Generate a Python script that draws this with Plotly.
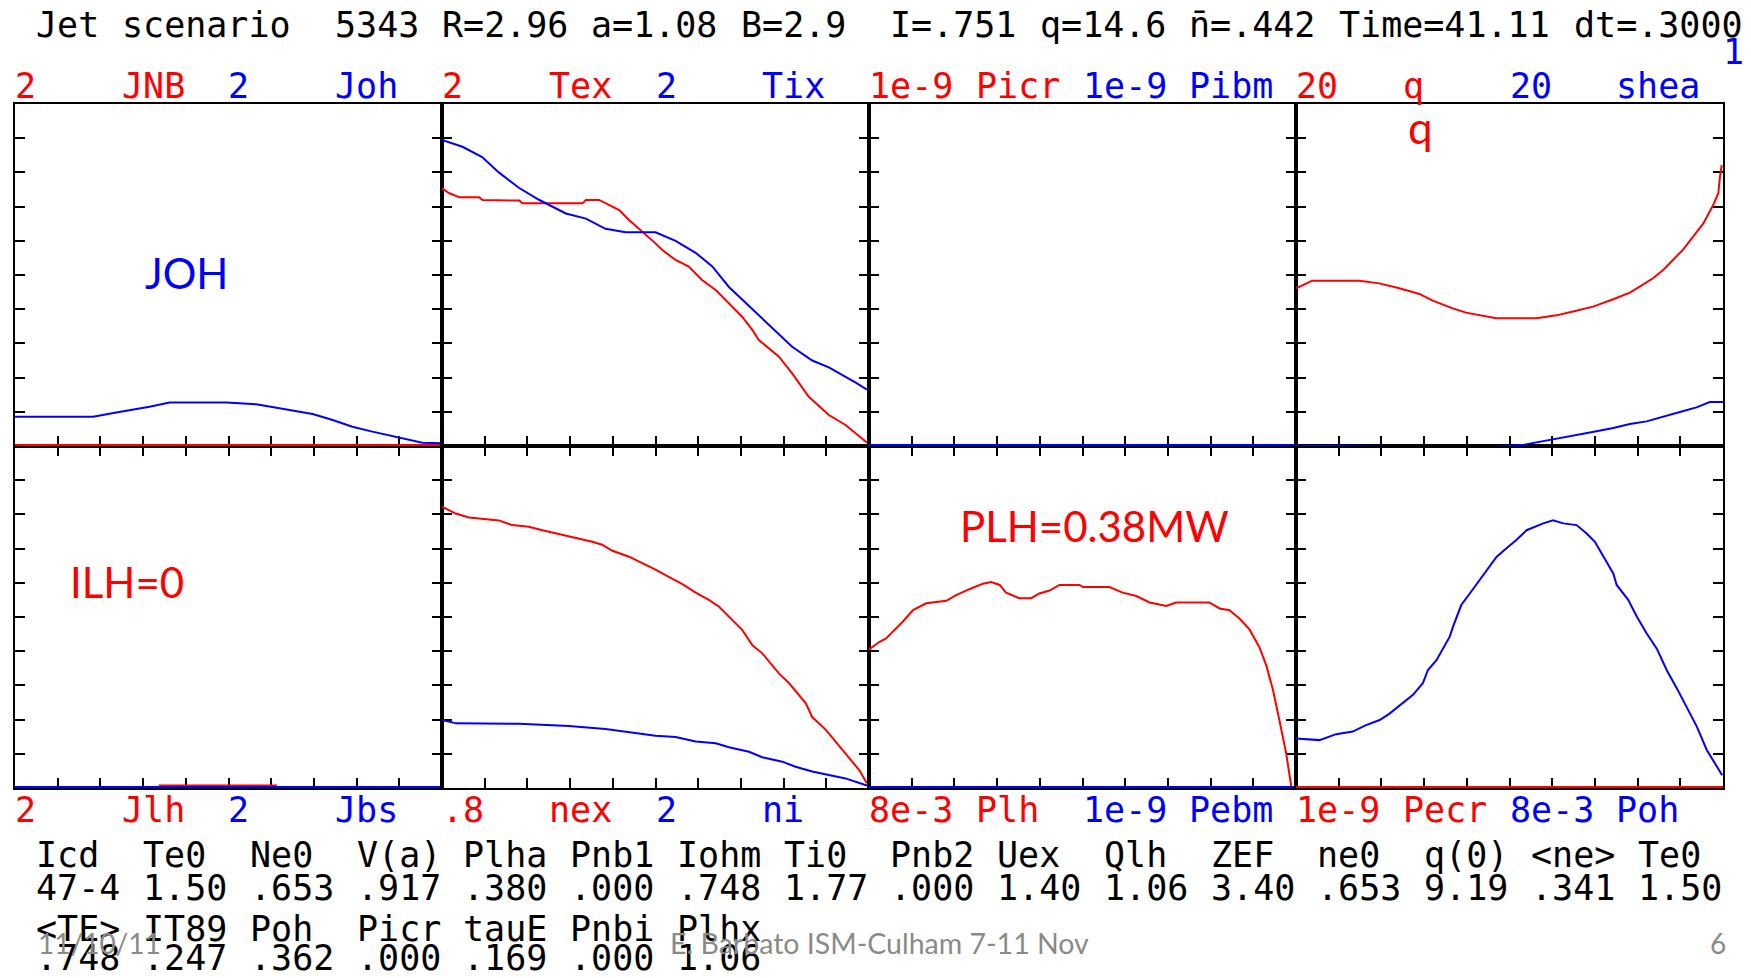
import numpy as np
import plotly.graph_objects as go

W, H = 1751, 978

# ---------------- data (x = normalised radius 0..1) ----------------
# top row
jnb_x = [0, 1]
jnb_v = [0, 0]
joh_x = [0, 0.183, 0.234, 0.276, 0.315, 0.362, 0.495, 0.565, 0.611, 0.658, 0.697, 0.744, 0.790, 0.837, 0.900, 0.954, 1.0]
joh_v = [0.171, 0.171, 0.195, 0.211, 0.23, 0.255, 0.255, 0.244, 0.224, 0.201, 0.187, 0.152, 0.113, 0.084, 0.051, 0.019, 0.016]

tex_x = [0, 0.017, 0.041, 0.087, 0.095, 0.181, 0.188, 0.329, 0.337, 0.368, 0.392, 0.415, 0.438, 0.470, 0.500, 0.516,
         0.547, 0.578, 0.609, 0.641, 0.672, 0.703, 0.727, 0.742, 0.789, 0.820, 0.859, 0.906, 0.945, 0.969, 0.995]
tex_v = [1.507, 1.478, 1.454, 1.454, 1.439, 1.435, 1.419, 1.419, 1.439, 1.439, 1.409, 1.380, 1.322, 1.254, 1.185, 1.146,
         1.088, 1.049, 0.971, 0.912, 0.834, 0.756, 0.678, 0.620, 0.522, 0.425, 0.288, 0.181, 0.123, 0.074, 0.02]
tix_x = [0, 0.048, 0.094, 0.133, 0.180, 0.227, 0.290, 0.337, 0.383, 0.430, 0.500, 0.547, 0.594, 0.633, 0.672, 0.719,
         0.766, 0.820, 0.867, 0.906, 0.969, 0.995]
tix_v = [1.79, 1.75, 1.69, 1.60, 1.51, 1.44, 1.36, 1.33, 1.27, 1.25, 1.25, 1.20, 1.13, 1.05, 0.93, 0.82,
         0.71, 0.58, 0.50, 0.46, 0.37, 0.33]

picr_x = [0, 1]
picr_v = [0, 0]
pibm_x = [0, 1]
pibm_v = [0, 0]

q_x = [0, 0.038, 0.148, 0.195, 0.242, 0.289, 0.320, 0.367, 0.398, 0.430, 0.469, 0.563, 0.610, 0.649, 0.696, 0.743,
       0.782, 0.805, 0.836, 0.860, 0.883, 0.907, 0.930, 0.954, 0.977, 0.989, 0.993, 0.997]
q_v = [9.22, 9.67, 9.67, 9.51, 9.22, 8.89, 8.50, 8.05, 7.80, 7.64, 7.47, 7.47, 7.64, 7.86, 8.15, 8.58,
       8.97, 9.32, 9.81, 10.29, 10.88, 11.50, 12.24, 13.02, 14.09, 14.78, 15.75, 16.43]
shea_x = [0, 0.10, 0.234, 0.297, 0.422, 0.43, 0.535, 0.578, 0.625, 0.664, 0.704, 0.743, 0.782, 0.821, 0.860, 0.899, 0.938, 0.969, 1.0]
shea_v = [0.0, 0.0, -0.06, -0.23, -0.23, -0.12, 0.08, 0.27, 0.47, 0.66, 0.86, 1.05, 1.29, 1.44, 1.73, 1.99, 2.26, 2.57, 2.57]

# bottom row
jlh_x = [0, 0.339, 0.339, 0.611, 0.611, 1]
jlh_v = [0, 0, 0.015, 0.015, 0, 0]
jbs_x = [0, 1]
jbs_v = [0, 0]

nex_x = [0, 0.017, 0.032, 0.063, 0.102, 0.133, 0.164, 0.203, 0.235, 0.266, 0.313, 0.352, 0.375, 0.399, 0.438, 0.469,
         0.500, 0.531, 0.563, 0.594, 0.625, 0.649, 0.672, 0.703, 0.727, 0.750, 0.789, 0.813, 0.852, 0.867, 0.899,
         0.938, 0.977, 0.995]
nex_v = [0.658, 0.650, 0.642, 0.633, 0.630, 0.626, 0.615, 0.611, 0.603, 0.596, 0.586, 0.576, 0.569, 0.555, 0.541, 0.526,
         0.511, 0.494, 0.477, 0.457, 0.440, 0.424, 0.401, 0.370, 0.334, 0.315, 0.268, 0.245, 0.198, 0.166, 0.136,
         0.089, 0.042, 0.011]
ni_x = [0, 0.033, 0.180, 0.297, 0.383, 0.438, 0.500, 0.547, 0.594, 0.641, 0.672, 0.719, 0.750, 0.797, 0.828, 0.867,
        0.906, 0.945, 0.995]
ni_v = [0.398, 0.378, 0.376, 0.362, 0.345, 0.325, 0.305, 0.298, 0.272, 0.262, 0.238, 0.212, 0.180, 0.154, 0.124, 0.096,
        0.076, 0.056, 0.015]

plh_x = [0, 0.025, 0.040, 0.064, 0.079, 0.103, 0.134, 0.181, 0.204, 0.235, 0.267, 0.286, 0.306, 0.321, 0.352, 0.380,
         0.399, 0.423, 0.446, 0.493, 0.501, 0.563, 0.594, 0.626, 0.657, 0.696, 0.719, 0.797, 0.821, 0.844, 0.867,
         0.891, 0.914, 0.930, 0.946, 0.961, 0.977, 0.989, 1.0]
plh_v = [3.24e-3, 3.42e-3, 3.50e-3, 3.74e-3, 3.89e-3, 4.16e-3, 4.32e-3, 4.38e-3, 4.51e-3, 4.65e-3, 4.78e-3, 4.82e-3,
         4.75e-3, 4.57e-3, 4.44e-3, 4.44e-3, 4.55e-3, 4.62e-3, 4.75e-3, 4.75e-3, 4.70e-3, 4.70e-3, 4.57e-3, 4.49e-3,
         4.34e-3, 4.26e-3, 4.34e-3, 4.34e-3, 4.20e-3, 4.16e-3, 3.97e-3, 3.71e-3, 3.30e-3, 2.88e-3, 2.30e-3, 1.59e-3,
         0.81e-3, 0.03e-3, 0.0]
pebm_x = [0, 1]
pebm_v = [0, 0]

pecr_x = [0, 1]
pecr_v = [0, 0]
poh_x = [0, 0.055, 0.094, 0.133, 0.164, 0.196, 0.219, 0.250, 0.274, 0.297, 0.309, 0.329, 0.344, 0.360, 0.368, 0.387,
         0.407, 0.430, 0.446, 0.470, 0.493, 0.516, 0.540, 0.579, 0.602, 0.626, 0.657, 0.680, 0.700, 0.720, 0.743,
         0.751, 0.778, 0.798, 0.821, 0.845, 0.868, 0.892, 0.915, 0.939, 0.962, 0.998]
poh_v = [1.16e-3, 1.12e-3, 1.26e-3, 1.32e-3, 1.47e-3, 1.59e-3, 1.74e-3, 1.98e-3, 2.18e-3, 2.45e-3, 2.76e-3, 2.99e-3,
         3.26e-3, 3.54e-3, 3.78e-3, 4.28e-3, 4.55e-3, 4.86e-3, 5.10e-3, 5.41e-3, 5.61e-3, 5.80e-3, 6.03e-3, 6.19e-3,
         6.26e-3, 6.19e-3, 6.15e-3, 5.96e-3, 5.76e-3, 5.41e-3, 5.02e-3, 4.75e-3, 4.40e-3, 4.01e-3, 3.62e-3, 3.26e-3,
         2.76e-3, 2.33e-3, 1.90e-3, 1.43e-3, 0.89e-3, 0.30e-3]

# panel full-scale values and labels: (red label, red scale), (blue label, blue scale)
top_scales_r = [("2", 2), ("2", 2), ("1e-9", 1e-9), ("20", 20)]
top_scales_b = [("2", 2), ("2", 2), ("1e-9", 1e-9), ("20", 20)]
top_names = [("JNB", "Joh"), ("Tex", "Tix"), ("Picr", "Pibm"), ("q", "shea")]
bot_scales_r = [("2", 2), (".8", 0.8), ("8e-3", 8e-3), ("1e-9", 1e-9)]
bot_scales_b = [("2", 2), ("2", 2), ("1e-9", 1e-9), ("8e-3", 8e-3)]
bot_names = [("Jlh", "Jbs"), ("nex", "ni"), ("Plh", "Pebm"), ("Pecr", "Poh")]

top_red = [(jnb_x, jnb_v), (tex_x, tex_v), (picr_x, picr_v), (q_x, q_v)]
top_blue = [(joh_x, joh_v), (tix_x, tix_v), (pibm_x, pibm_v), (shea_x, shea_v)]
bot_red = [(jlh_x, jlh_v), (nex_x, nex_v), (plh_x, plh_v), (pecr_x, pecr_v)]
bot_blue = [(jbs_x, jbs_v), (ni_x, ni_v), (pebm_x, pebm_v), (poh_x, poh_v)]

title_tokens = [("Jet", 1), ("scenario", 5), ("5343", 15), ("R=2.96", 20), ("a=1.08", 27), ("B=2.9", 34),
                ("I=.751", 41), ("q=14.6", 48), ("n\u0304=.442", 55), ("Time=41.11", 62), ("dt=.3000", 73)]
table_row1 = ["Icd", "Te0", "Ne0", "V(a)", "Plha", "Pnb1", "Iohm", "Ti0", "Pnb2", "Uex", "Qlh", "ZEF", "ne0", "q(0)", "&lt;ne&gt;", "Te0"]
table_row2 = ["47-4", "1.50", ".653", ".917", ".380", ".000", ".748", "1.77", ".000", "1.40", "1.06", "3.40", ".653", "9.19", ".341", "1.50"]
table_row3 = ["&lt;TE&gt;", "IT89", "Poh", "Picr", "tauE", "Pnbi", "Plhx"]
table_row4 = [".748", ".247", ".362", ".000", ".169", ".000", "1.06"]

RED = "#ff0000"
BLUE = "#0000ff"

# ---------------- geometry ----------------
X0, PW = 15, 427
ROWS = [(104, 446), (446, 788)]   # top row, bottom row (pixel y)
CW = 21.35
MONO = "DejaVu Sans Mono"
MSIZE = 35.0

fig = go.Figure()

def fx(px):
    return px / W

def fy(py):
    return 1 - py / H

panel_defs = []
# bottom row drawn first so the top row's zero lines lie over the shared border
for c in range(4):
    panel_defs.append((1, c, bot_red[c], bot_scales_r[c][1], bot_blue[c], bot_scales_b[c][1]))
for c in range(4):
    panel_defs.append((0, c, top_red[c], top_scales_r[c][1], top_blue[c], top_scales_b[c][1]))

for n, (r, c, red, rsc, blue, bsc) in enumerate(panel_defs, start=1):
    xa = "x" if n == 1 else f"x{n}"
    ya = "y" if n == 1 else f"y{n}"
    for (xs, vs), sc, col in [(red, rsc, RED), (blue, bsc, BLUE)]:
        vals = np.array(vs, dtype=float) / sc
        lw = 4 if np.all(vals == 0) else 2
        fig.add_trace(go.Scatter(x=xs, y=vals, mode="lines",
                                 line=dict(color=col, width=lw), xaxis=xa, yaxis=ya,
                                 cliponaxis=False, showlegend=False, hoverinfo="skip"))
    y_top, y_bot = ROWS[r]
    common = dict(range=[0, 1], tickmode="linear", tick0=0, dtick=0.1, ticks="inside", ticklen=10,
                  tickwidth=2, tickcolor="black", showticklabels=False, showgrid=False, zeroline=False,
                  showline=True, linecolor="black", linewidth=2, layer="below traces", fixedrange=True)
    fig.layout[f"xaxis{n}"] = dict(domain=[fx(X0 + PW * c), fx(X0 + PW * (c + 1))], anchor=ya,
                                   mirror=("ticks" if r == 1 else True), **common)
    fig.layout[f"yaxis{n}"] = dict(domain=[fy(y_bot), fy(y_top)], anchor=xa, mirror="ticks", **common)

ann = []

def mono(text, col, yc, color="black"):
    ann.append(dict(text=text, x=fx(X0 + col * CW - 2), y=fy(yc), xref="paper", yref="paper",
                    xanchor="left", yanchor="middle", showarrow=False,
                    font=dict(family=MONO, size=MSIZE, color=color)))

for t, col in title_tokens:
    mono(t, col, 25)
mono("1", 80, 52, BLUE)

for c in range(4):
    mono(top_scales_r[c][0], 20 * c, 86, RED)
    mono(top_names[c][0], 20 * c + 5, 86, RED)
    mono(top_scales_b[c][0], 20 * c + 10, 86, BLUE)
    mono(top_names[c][1], 20 * c + 15, 86, BLUE)
    mono(bot_scales_r[c][0], 20 * c, 810, RED)
    mono(bot_names[c][0], 20 * c + 5, 810, RED)
    mono(bot_scales_b[c][0], 20 * c + 10, 810, BLUE)
    mono(bot_names[c][1], 20 * c + 15, 810, BLUE)

for i, t in enumerate(table_row1):
    mono(t, 1 + 5 * i, 855)
for i, t in enumerate(table_row2):
    mono(t, 1 + 5 * i, 888)
for i, t in enumerate(table_row3):
    mono(t, 1 + 5 * i, 929)
for i, t in enumerate(table_row4):
    mono(t, 1 + 5 * i, 958)

SANS = "Lato"
def sans(text, xc, yc, color, size, xanchor="center"):
    ann.append(dict(text=text, x=fx(xc), y=fy(yc), xref="paper", yref="paper",
                    xanchor=xanchor, yanchor="middle", showarrow=False,
                    font=dict(family=SANS, size=size, color=color)))

sans("JOH", 186, 273, BLUE, 42)
sans("ILH=0", 127, 582, RED, 42)
sans("PLH=0.38MW", 1094, 526, RED, 42)
sans("q", 1420, 127, RED, 44)

GRAY = "#8a8a8a"
sans("11/10/11", 36, 943, GRAY, 28, "left")
sans("E. Barbato ISM-Culham 7-11 Nov", 668, 943, GRAY, 28.5, "left")
sans("6", 1728, 943, GRAY, 28, "right")

fig.update_layout(width=W, height=H, margin=dict(l=0, r=0, t=0, b=0), paper_bgcolor="white",
                  plot_bgcolor="white", showlegend=False, annotations=ann)

fig.write_html("out.html")
